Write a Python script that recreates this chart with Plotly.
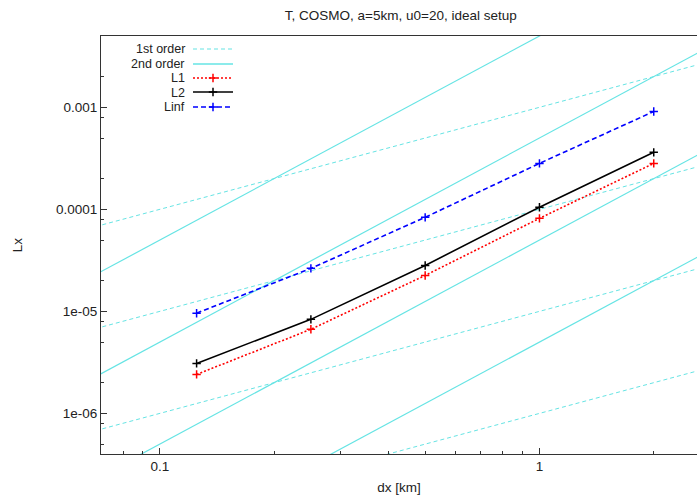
import numpy as np
import plotly.graph_objects as go

# ---- data ----
dx = [0.125, 0.25, 0.5, 1.0, 2.0]
L1 = [2.41e-6, 6.67e-6, 2.25e-5, 8.16e-5, 2.82e-4]
L2 = [3.09e-6, 8.35e-6, 2.82e-5, 1.05e-4, 3.62e-4]
Linf = [9.6e-6, 2.64e-5, 8.35e-5, 2.82e-4, 9.1e-4]

first_order_coef = [1e-3, 1e-4, 1e-5, 1e-6]      # y = c * x
second_order_coef = [5e-3, 5e-4, 5e-5, 5e-6]     # y = c * x^2

x_range = [0.07, 2.6]
y_range = [4e-7, 5e-3]

x_tickvals = [0.1, 1]
x_ticktext = ["0.1", "1"]
y_tickvals = [1e-6, 1e-5, 1e-4, 1e-3]
y_ticktext = ["1e-06", "1e-05", "0.0001", "0.001"]

legend_labels = ["1st order", "2nd order", "L1", "L2", "Linf"]

CYAN = "#66e4e4"
FONT = "Liberation Sans, Arial, sans-serif"
FS = 13.5
LFS = 12.5

fig = go.Figure()

xg = np.logspace(np.log10(x_range[0]) - 0.05, np.log10(x_range[1]) + 0.05, 50)
for c in first_order_coef:
    fig.add_trace(go.Scatter(x=xg, y=c * xg, mode="lines",
                             line=dict(color=CYAN, width=1.0, dash="4px,3px"),
                             showlegend=False, hoverinfo="skip"))
for c in second_order_coef:
    fig.add_trace(go.Scatter(x=xg, y=c * xg ** 2, mode="lines",
                             line=dict(color=CYAN, width=1.2),
                             showlegend=False, hoverinfo="skip"))

styles = {
    "L1": dict(color="#ff0000", dash="2px,2px"),
    "L2": dict(color="#000000", dash="solid"),
    "Linf": dict(color="#0000ff", dash="5px,3px"),
}
for name, vals in [("L1", L1), ("L2", L2), ("Linf", Linf)]:
    st = styles[name]
    fig.add_trace(go.Scatter(x=dx, y=vals, mode="lines+markers", name=name,
                             line=dict(color=st["color"], width=1.6, dash=st["dash"]),
                             marker=dict(symbol="cross-thin", size=6,
                                         line=dict(color=st["color"], width=1.5)),
                             showlegend=False))

# ---- custom gnuplot-style legend (text right, sample left) on helper axes ----
leg_y_px = [49, 63.5, 78, 92.5, 107]   # pixel rows of legend entries
top, bottom = 36, 454
ph = bottom - top
left, right = 101, 697
pw = right - left
def py(p):
    return 1 - (p - top) / ph
def px(p):
    return (p - left) / pw

sx0, sx1, sxm = px(193), px(233), px(213)
leg_styles = [
    dict(color=CYAN, width=1.2, dash="4px,3px"),
    dict(color=CYAN, width=1.6, dash="solid"),
    dict(color="#ff0000", width=1.6, dash="2px,2px"),
    dict(color="#000000", width=1.6, dash="solid"),
    dict(color="#0000ff", width=1.6, dash="5px,3px"),
]
for i, (lab, yp) in enumerate(zip(legend_labels, leg_y_px)):
    yy = py(yp)
    yl = py(round(yp))
    fig.add_trace(go.Scatter(x=[sx0, sx1], y=[yl, yl], mode="lines",
                             line=leg_styles[i], xaxis="x2", yaxis="y2",
                             showlegend=False, hoverinfo="skip"))
    if i >= 2:
        fig.add_trace(go.Scatter(x=[sxm], y=[yl], mode="markers",
                                 marker=dict(symbol="cross-thin", size=6,
                                             line=dict(color=leg_styles[i]["color"], width=1.5)),
                                 xaxis="x2", yaxis="y2", showlegend=False, hoverinfo="skip"))
    fig.add_annotation(x=px(186), y=yy, xref="x2", yref="y2", text=lab,
                       showarrow=False, xanchor="right", yanchor="middle", borderpad=0,
                       font=dict(family=FONT, size=LFS, color="#222"))

axis_common = dict(showgrid=False, zeroline=False, showline=True, linecolor="#333",
                   linewidth=1.2, mirror=True, ticks="inside", ticklen=6,
                   tickcolor="#333", tickfont=dict(family=FONT, size=FS, color="#222"))

fig.update_layout(
    width=697, height=502,
    margin=dict(l=101, r=0, t=36, b=48),
    paper_bgcolor="white", plot_bgcolor="white",
    title=dict(text="T, COSMO, a=5km, u0=20, ideal setup", x=0.575, xanchor="center",
               y=1 - 15 / 502, yanchor="middle",
               font=dict(family=FONT, size=FS, color="#222")),
    xaxis=dict(type="log", range=[np.log10(x_range[0]), np.log10(x_range[1])],
               tickvals=x_tickvals, ticktext=x_ticktext,
               title=dict(text="dx [km]", font=dict(family=FONT, size=FS, color="#222"),
                          standoff=9),
               minor=dict(ticks="inside", ticklen=3, tickcolor="#333",
                          tickvals=[0.08, 0.09, 0.2, 0.3, 0.4, 0.5, 0.6, 0.7, 0.8, 0.9, 2]),
               **axis_common),
    yaxis=dict(type="log", range=[np.log10(y_range[0]), np.log10(y_range[1])],
               tickvals=y_tickvals, ticktext=y_ticktext,
               title=dict(text="Lx", font=dict(family=FONT, size=FS, color="#222"),
                          standoff=30),
               minor=dict(ticks="inside", ticklen=3, tickcolor="#333",
                          tickvals=[m * 10.0 ** k for k in range(-7, -2) for m in (2, 5, 8)]),
               **axis_common),
    xaxis2=dict(overlaying="x", range=[0, 1], visible=False, fixedrange=True),
    yaxis2=dict(overlaying="y", range=[0, 1], visible=False, fixedrange=True),
    showlegend=False,
)

fig.write_html("out.html")
